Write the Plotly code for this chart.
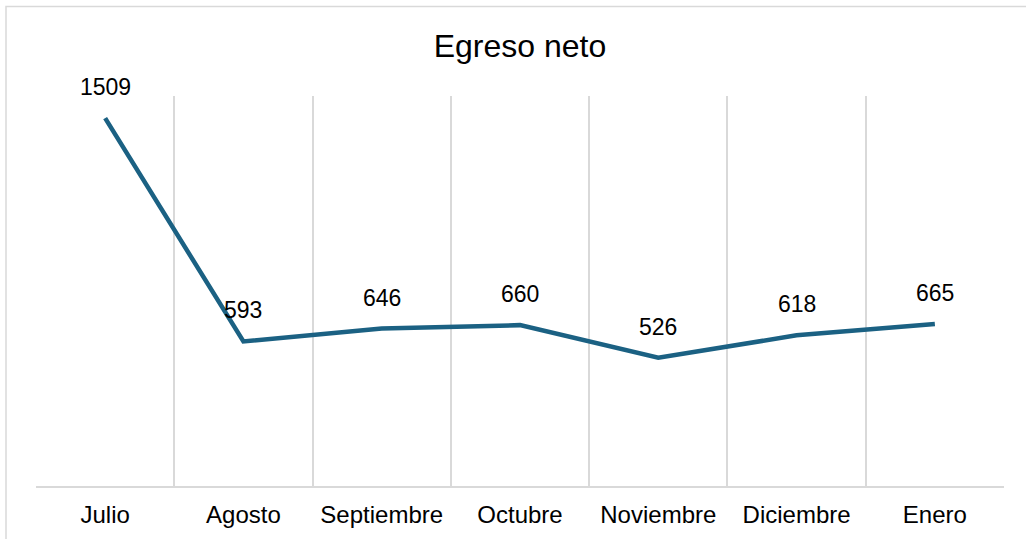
import plotly.graph_objects as go

categories = ["Julio", "Agosto", "Septiembre", "Octubre", "Noviembre", "Diciembre", "Enero"]
values = [1509, 593, 646, 660, 526, 618, 665]
title_text = "Egreso neto"

W, H = 1026, 539
ml, mr, mt, mb = 36, 22, 96, 53
pw, ph = W - ml - mr, H - mt - mb

fig = go.Figure()
fig.add_trace(go.Scatter(
    x=categories, y=values, mode="lines",
    line=dict(color="#1B6183", width=4.5),
    hoverinfo="x+y", showlegend=False,
))

for c, v in zip(categories, values):
    fig.add_annotation(x=c, y=v, text=str(v), showarrow=False, yshift=31,
                       font=dict(family="Liberation Sans, Arial", size=23, color="#000000"))

def px_x(p):
    return (p - ml) / pw

def px_y(p):
    return (H - mb - p) / ph

fig.add_shape(type="rect", xref="paper", yref="paper",
              x0=px_x(6), x1=px_x(1040), y0=px_y(560), y1=px_y(6.5),
              line=dict(color="#D9D9D9", width=1.5), fillcolor="rgba(0,0,0,0)", layer="below")

fig.update_layout(
    width=W, height=H,
    margin=dict(l=ml, r=mr, t=mt, b=mb, pad=0, autoexpand=False),
    paper_bgcolor="white", plot_bgcolor="white",
    title=dict(text=title_text, x=(520) / W, xanchor="center", xref="container",
               y=1 - 46 / H, yanchor="middle", yref="container",
               font=dict(family="Liberation Sans, Arial", size=32, color="#000000")),
    font=dict(family="Liberation Sans, Arial", color="#000000"),
    xaxis=dict(type="category", range=[-0.5, len(categories) - 0.5], automargin=False,
               tickson="boundaries", showgrid=True, gridcolor="#D9D9D9", gridwidth=1.5,
               showline=True, linecolor="#D9D9D9", linewidth=1.5, ticks="",
               tickfont=dict(size=24, color="#000000"), ticklabelstandoff=6,
               zeroline=False, fixedrange=True),
    yaxis=dict(range=[0, 1600], showgrid=False, zeroline=False, showticklabels=False,
               automargin=False, showline=False, ticks="", fixedrange=True),
)

fig.write_html("out.html", config={"displayModeBar": False},
               post_script="document.body.style.margin='0';document.body.style.padding='0';")
